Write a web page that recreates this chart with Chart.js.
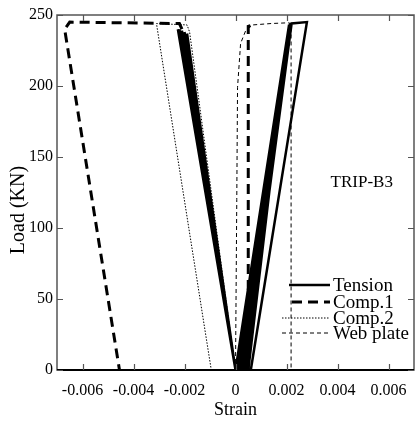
<!DOCTYPE html>
<html>
<head>
<meta charset="utf-8">
<script src="https://cdn.jsdelivr.net/npm/chart.js@4/dist/chart.umd.min.js"></script>
<style>
  html, body { margin: 0; padding: 0; background: #fff; }
  #wrap { width: 417px; height: 425px; }
</style>
</head>
<body>
<div id="wrap"><canvas id="grafico"></canvas></div>
<script>
// strain / load pairs
const tension_x = [0, 0.0021, 0.0001, 0.00212, 0.0002, 0.00215, 0.0003, 0.00218, 0.0004, 0.0022, 0.0028, 0.0006, 0.0005, 0.0021]
const tension_y = [0, 243, 0, 243, 0, 244, 0, 244, 0, 244, 245, 0, 0, 243]
const comp1_v_x = [0, -0.00226, 0, -0.0022, 0, -0.0021, 0, -0.002, 0, -0.0019, 0]
const comp1_v_y = [0, 240, 0, 240, 0, 239, 0, 238, 0, 237, 0]
const comp1_x = [-0.0021, -0.0022, -0.0065, -0.0067, -0.00455]
const comp1_y = [240, 244, 245, 240, 0]
const comp1b_x = [0.0005, 0.0005, 0.0008]
const comp1b_y = [0, 242, 244]
const comp2_x = [0, -0.0018, -0.0019, -0.0031, -0.00095]
const comp2_y = [0, 238, 243, 244, 0]
const web_x = [0, 0.00005, 0.00008, 0.0002, 0.0004, 0.00067, 0.0014, 0.00206, 0.00218, 0.00218]
const web_y = [0, 120, 199, 230, 239, 243, 244, 244.5, 244, 0]

const series_names = ['Tension', 'Comp.1', 'Comp.2', 'Web plate']
const x_ticks = [-0.006, -0.004, -0.002, 0, 0.002, 0.004, 0.006]
const x_tick_labels = ['-0.006', '-0.004', '-0.002', '0', '0.002', '0.004', '0.006']
const y_ticks = [0, 50, 100, 150, 200, 250]
const specimen = 'TRIP-B3'

const pts = (xs, ys) => xs.map((x, i) => ({ x: x, y: ys[i] }))
const serif = "'Liberation Serif', 'Times New Roman', serif"

const estilos = [
    { borderWidth: 2.5, borderDash: [] },
    { borderWidth: 3, borderDash: [10, 6] },
    { borderWidth: 1, borderDash: [1.5, 1.5] },
    { borderWidth: 1, borderDash: [4, 3] }
]

function ds(label, data, st) {
    return {
        label: label,
        data: data,
        showLine: true,
        borderColor: '#000',
        backgroundColor: '#000',
        borderWidth: st.borderWidth,
        borderDash: st.borderDash,
        pointRadius: 0,
        tension: 0,
        fill: false
    }
}

// frame, inward ticks, legend, y title and specimen label
const moldura = {
    id: 'moldura',
    afterDraw(chart) {
        const { ctx, chartArea: a, scales: { x, y } } = chart
        ctx.save()
        ctx.strokeStyle = '#555'
        ctx.lineWidth = 1.5
        ctx.strokeRect(a.left, a.top, a.right - a.left, a.bottom - a.top)
        ctx.strokeStyle = '#000'
        ctx.lineWidth = 2
        ctx.beginPath(); ctx.moveTo(a.left, a.bottom); ctx.lineTo(a.right, a.bottom); ctx.stroke()
        ctx.strokeStyle = '#555'
        ctx.lineWidth = 1.2
        const t = 6
        ctx.beginPath()
        x_ticks.forEach(v => {
            const px = Math.round(x.getPixelForValue(v)) + 0.5
            ctx.moveTo(px, a.bottom); ctx.lineTo(px, a.bottom - t)
            ctx.moveTo(px, a.top); ctx.lineTo(px, a.top + t)
        })
        y_ticks.forEach(v => {
            const py = Math.round(y.getPixelForValue(v)) + 0.5
            ctx.moveTo(a.left, py); ctx.lineTo(a.left + t, py)
            ctx.moveTo(a.right, py); ctx.lineTo(a.right - t, py)
        })
        ctx.stroke()

        // legend
        ctx.font = '19px ' + serif
        ctx.fillStyle = '#000'
        ctx.textBaseline = 'middle'
        const linhas = [
            { x0: 289, x1: 330 },
            { x0: 292, x1: 330 },
            { x0: 282, x1: 330 },
            { x0: 282, x1: 330 }
        ]
        const rowY = [285, 302, 318, 333]
        series_names.forEach((nome, i) => {
            const st = estilos[i]
            ctx.lineWidth = st.borderWidth
            ctx.strokeStyle = '#000'
            ctx.setLineDash(st.borderDash)
            ctx.beginPath()
            ctx.moveTo(linhas[i].x0, rowY[i]); ctx.lineTo(linhas[i].x1, rowY[i])
            ctx.stroke()
            ctx.setLineDash([])
            ctx.fillText(nome, 333, rowY[i] + 1)
        })

        ctx.font = '17px ' + serif
        ctx.textAlign = 'center'
        ctx.fillText(specimen, x.getPixelForValue(0.00495), y.getPixelForValue(131.7))

        // y axis title
        ctx.font = '20px ' + serif
        ctx.translate(19, 210)
        ctx.rotate(-Math.PI / 2)
        ctx.fillText('Load (KN)', 0, 0)
        ctx.restore()
    }
}

const ctx_grafico = document.getElementById('grafico').getContext('2d')

let grafico = new Chart(ctx_grafico, {
    type: 'scatter',
    data: {
        datasets: [
            ds(series_names[0], pts(tension_x, tension_y), estilos[0]),
            ds(series_names[1], pts(comp1_v_x, comp1_v_y), { borderWidth: 2.5, borderDash: [] }),
            ds(series_names[1], pts(comp1_x, comp1_y), estilos[1]),
            ds(series_names[1], pts(comp1b_x, comp1b_y), estilos[1]),
            ds(series_names[2], pts(comp2_x, comp2_y), estilos[2]),
            ds(series_names[3], pts(web_x, web_y), estilos[3])
        ]
    },
    options: {
        responsive: true,
        maintainAspectRatio: false,
        animation: false,
        layout: { padding: { left: 0, right: 3, top: 15, bottom: 0 } },
        plugins: {
            legend: { display: false },
            tooltip: { enabled: false }
        },
        scales: {
            x: {
                type: 'linear',
                min: -0.007,
                max: 0.007,
                afterBuildTicks: (s) => { s.ticks = x_ticks.map(v => ({ value: v })) },
                afterFit: (s) => { s.height = 55 },
                border: { display: false },
                grid: { display: false },
                ticks: {
                    color: '#000',
                    font: { family: serif, size: 16 },
                    padding: 3,
                    maxRotation: 0,
                    autoSkip: false,
                    callback: (v, i) => x_tick_labels[i]
                },
                title: {
                    display: true,
                    text: 'Strain',
                    color: '#000',
                    font: { family: serif, size: 18 },
                    padding: { top: 0, bottom: 4 }
                }
            },
            y: {
                type: 'linear',
                min: 0,
                max: 250,
                afterBuildTicks: (s) => { s.ticks = y_ticks.map(v => ({ value: v })) },
                afterFit: (s) => { s.width = 57 },
                border: { display: false },
                grid: { display: false, drawTicks: false },
                ticks: {
                    color: '#000',
                    font: { family: serif, size: 16 },
                    padding: 4
                }
            }
        }
    },
    plugins: [moldura]
});
</script>
</body>
</html>
